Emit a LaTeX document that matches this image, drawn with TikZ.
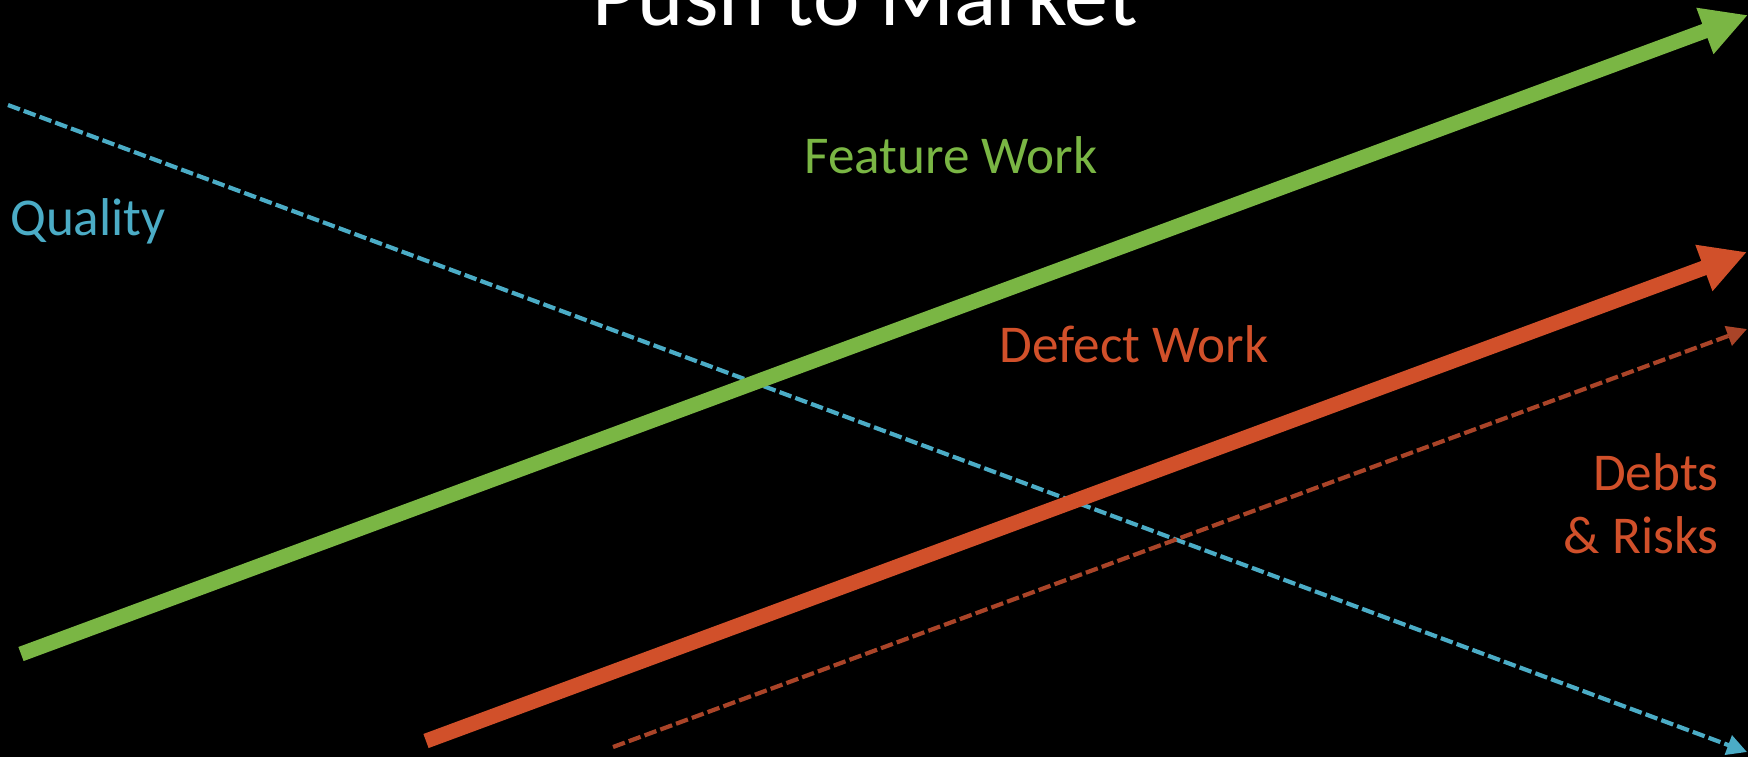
\documentclass[tikz,border=0pt]{standalone}
\usepackage{fontspec}
\setmainfont{Carlito}
\usetikzlibrary{arrows.meta}
\definecolor{featgreen}{RGB}{122,182,68}
\definecolor{defred}{RGB}{209,80,42}
\definecolor{debtred}{RGB}{170,68,40}
\definecolor{qualblue}{RGB}{75,172,198}
\tikzset{
  bigarrow/.style={line width=7.5pt, -{Triangle[length=23pt,width=23pt]}},
  thinarrow/.style={line width=2.1pt, dash pattern=on 6.3pt off 2.1pt, -{Triangle[length=10pt,width=10pt]}},
  label/.style={inner sep=0pt, font=\fontsize{26.6}{32}\selectfont},
}
\begin{document}
\begin{tikzpicture}[x=0.5pt,y=-0.5pt]
  \fill[black] (0,0) rectangle (1748,757);
  \useasboundingbox (0,0) rectangle (1748,757);

  % end points of the four trends
  \coordinate (q0) at (8,105);
  \coordinate (q1) at (1747,752);
  \coordinate (f0) at (21,654);
  \coordinate (f1) at (1748,15);
  \coordinate (d0) at (426,741);
  \coordinate (d1) at (1747,252);
  \coordinate (r0) at (613,747);
  \coordinate (r1) at (1747,329);

  % trends
  \draw[thinarrow, qualblue] (q0) -- (q1);
  \draw[thinarrow, debtred] (r0) -- (r1);
  \draw[bigarrow, featgreen] (f0) -- (f1);
  \draw[bigarrow, defred] (d0) -- (d1);

  % title and labels
  \node[inner sep=0pt, anchor=base, text=white, font=\fontsize{44}{52}\selectfont] (title) at (865,25) {Push to Market};
  \node[label, anchor=base, text=featgreen] (feat) at (951,173) {Feature Work};
  \node[label, anchor=base, text=defred] (defect) at (1134,362) {Defect Work};
  \node[label, anchor=base, text=qualblue] (quality) at (88,235) {Quality};
  \node[label, anchor=base east, text=defred] (debts) at (1719,490) {Debts};
  \node[label, anchor=base east, text=defred] (risks) at (1719,553) {\& Risks};
\end{tikzpicture}
\end{document}
